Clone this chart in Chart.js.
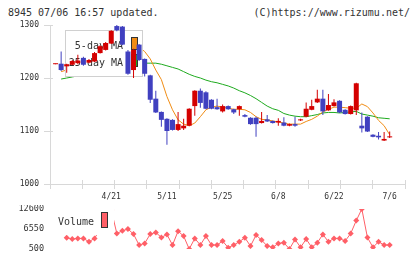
<!DOCTYPE html>
<html>
<head>
<meta charset="utf-8">
<script src="https://cdn.jsdelivr.net/npm/chart.js@4"></script>
<style>
  html, body { margin: 0; padding: 0; background: #fff; }
  #wrap { position: relative; width: 420px; height: 259px; overflow: hidden; }
  .txt { position: absolute; font: 10px 'DejaVu Sans Mono', monospace; color: #333; line-height: 12px; white-space: pre; }
  #main { position: absolute; left: 0; top: 0; }
  #vol { position: absolute; left: 0; top: 205px; }
</style>
</head>
<body>
<div id="wrap">
  <div class="txt" style="left:8px; top:7px">8945 07/06 16:57 updated.</div>
  <div class="txt" style="right:10px; top:7px">(C)https://www.rizumu.net/</div>
  <canvas id="main" width="420" height="205"></canvas>
  <canvas id="vol" width="420" height="54"></canvas>
</div>
<script>
// trading days, 2020
const dates = [
  '4/7','4/8','4/9','4/10','4/13','4/14','4/15','4/16','4/17','4/20',
  '4/21','4/22','4/23','4/24','4/27','4/28','4/30','5/1','5/7','5/8',
  '5/11','5/12','5/13','5/14','5/15','5/18','5/19','5/20','5/21','5/22',
  '5/25','5/26','5/27','5/28','5/29','6/1','6/2','6/3','6/4','6/5',
  '6/8','6/9','6/10','6/11','6/12','6/15','6/16','6/17','6/18','6/19',
  '6/22','6/23','6/24','6/25','6/26','6/29','6/30','7/1','7/2','7/3',
  '7/6'
]
const tickDays = [10, 20, 30, 40, 50, 60]

const open = [
  1226,1227,1222,1225,1228,1238,1229,1231,1247,1253,
  1265,1298,1297,1250,1215,1263,1236,1205,1161,1136,
  1123,1121,1102,1105,1110,1147,1176,1173,1159,1145,
  1137,1147,1141,1141,1130,1125,1125,1115,1122,1119,
  1116,1116,1110,1113,1120,1127,1140,1154,1161,1139,
  1147,1157,1140,1132,1139,1110,1127,1093,1091,1082,
  1088
]
const high = [
  1227,1250,1227,1234,1244,1240,1236,1249,1262,1268,
  1290,1301,1298,1253,1255,1264,1237,1206,1176,1137,
  1124,1122,1136,1123,1143,1177,1180,1175,1160,1161,
  1150,1148,1142,1148,1132,1126,1127,1136,1130,1120,
  1124,1126,1114,1127,1123,1154,1159,1178,1178,1170,
  1160,1158,1141,1148,1191,1135,1128,1094,1098,1098,
  1099
]
const low = [
  1226,1213,1210,1224,1226,1223,1228,1230,1246,1252,
  1264,1288,1262,1206,1200,1232,1203,1153,1134,1108,
  1074,1101,1100,1102,1109,1129,1144,1141,1141,1140,
  1135,1140,1132,1129,1126,1112,1089,1114,1117,1114,
  1110,1109,1109,1108,1119,1126,1139,1153,1130,1138,
  1146,1134,1131,1131,1130,1097,1098,1088,1084,1081,
  1087
]
const close = [
  1227,1215,1226,1232,1233,1225,1234,1247,1260,1266,
  1289,1290,1263,1208,1253,1234,1208,1159,1135,1121,
  1100,1102,1113,1110,1142,1176,1153,1142,1142,1141,
  1147,1141,1135,1147,1127,1113,1113,1119,1118,1115,
  1119,1110,1113,1110,1122,1142,1147,1161,1137,1149,
  1154,1135,1132,1147,1190,1105,1099,1089,1088,1085,
  1089
]
const ma5 = [
  null,1212,1215,1219,1224,1227,1230,1233,1240,1249,
  1260,1271,1275,1270,1265,1258,1250,1236,1215,1197,
  1165,1140,1121,1113,1110,1115,1127,1140,1145,1147,
  1145,1143,1141,1141,1140,1135,1127,1122,1121,1119,
  1117,1115,1113,1113,1113,1118,1122,1128,1136,1141,
  1145,1145,1144,1143,1143,1151,1146,1134,1120,1110,
  1093
]
const ma25 = [
  null,1198,1200,1202,1204,1206,1208,1210,1212,1214,
  1217,1220,1222,1224,1226,1227,1228,1228,1228,1226,
  1223,1220,1217,1212,1207,1203,1200,1196,1193,1191,
  1188,1185,1181,1176,1172,1167,1161,1154,1147,1142,
  1139,1133,1130,1128,1127,1127,1129,1131,1134,1135,
  1135,1134,1135,1136,1137,1132,1130,1128,1125,1124,
  1123
]
const volume = [
  null,null,3900,3500,3700,3700,2700,3700,6500,9000,
  12300,5200,6000,6550,5000,1700,2200,5000,5500,4000,
  4900,1700,5900,4400,500,3700,1700,4400,1700,1700,
  2900,900,1700,2700,3900,1400,4700,3200,1400,1000,
  2200,2400,500,3400,1000,3500,1000,2400,4900,2700,
  3700,3700,2900,5200,9100,12600,4000,1000,2700,1700,
  1700
]
const volTicks = [500, 6550, 12600]

const UP = '#d40000'
const DOWN = '#4040c0'
const MA5_COLOR = '#f08c14'
const MA25_COLOR = '#1eaa1e'
const VOL_COLOR = '#ff5f67'
const AXIS = '#d8d8d8'
const TEXT = '#333'
const FONT = "'DejaVu Sans Mono', monospace"
const X_MIN = -1
const X_MAX = 62.75

const idx = dates.map((d, i) => i)
const candleColor = idx.map(i => close[i] >= open[i] ? UP : DOWN)

// tick marks that cross the axis lines
const innerTicks = {
  id: 'innerTicks',
  beforeDatasetsDraw(chart) {
    const { ctx, chartArea: a } = chart
    const xs = chart.scales.x, ys = chart.scales.y
    ctx.save()
    ctx.strokeStyle = AXIS
    ctx.lineWidth = 1
    ctx.beginPath()
    xs.ticks.forEach(t => {
      const px = Math.round(xs.getPixelForValue(t.value) - 0.5) + 0.5
      ctx.moveTo(px, a.bottom)
      ctx.lineTo(px, a.bottom - 4)
    })
    ys.ticks.forEach(t => {
      const py = Math.round(ys.getPixelForValue(t.value) - 0.5) + 0.5
      ctx.moveTo(a.left, py)
      ctx.lineTo(a.left + 3, py)
    })
    ctx.stroke()
    ctx.restore()
  }
}

// MA legend box sits above the MA lines but under the candles
const maLegend = {
  id: 'maLegend',
  beforeDatasetDraw(chart, args) {
    if (args.index !== 2) return
    const ctx = chart.ctx
    ctx.save()
    ctx.fillStyle = '#fff'
    ctx.fillRect(66, 31, 76, 45)
    ctx.strokeStyle = '#d0d0d0'
    ctx.lineWidth = 1
    ctx.strokeRect(65.5, 30.5, 77, 46)
    ctx.font = '10px ' + FONT
    ctx.textAlign = 'right'
    ctx.textBaseline = 'middle'
    const rows = [0, 1].map(k => chart.data.datasets[k])
    rows.forEach((ds, k) => {
      const y = 46 + k * 17
      ctx.fillStyle = TEXT
      ctx.fillText(ds.label, 123, y)
      ctx.fillStyle = ds.borderColor
      ctx.fillRect(131, y - 9, 7, 13)
      ctx.strokeStyle = '#333'
      ctx.strokeRect(131.5, y - 8.5, 6, 12)
    })
    ctx.restore()
  }
}

const volLegend = {
  id: 'volLegend',
  afterDatasetsDraw(chart) {
    const ctx = chart.ctx
    ctx.save()
    ctx.fillStyle = '#fff'
    ctx.fillRect(54, 2, 60, 28)
    ctx.font = '10px ' + FONT
    ctx.textAlign = 'left'
    ctx.textBaseline = 'middle'
    ctx.fillStyle = TEXT
    ctx.fillText(chart.data.datasets[0].label, 58, 17)
    ctx.fillStyle = VOL_COLOR
    ctx.fillRect(101, 7, 7, 16)
    ctx.strokeStyle = '#333'
    ctx.strokeRect(101.5, 7.5, 6, 15)
    ctx.restore()
  }
}

const tickFont = { family: FONT, size: 8 }

new Chart(document.getElementById('main'), {
  type: 'bar',
  data: {
    datasets: [
      {
        type: 'line', label: '5-day MA', order: 3,
        data: idx.map(i => ({ x: i, y: ma5[i] })),
        borderColor: MA5_COLOR, borderWidth: 1, pointRadius: 0, tension: 0
      },
      {
        type: 'line', label: '25-day MA', order: 4,
        data: idx.map(i => ({ x: i, y: ma25[i] })),
        borderColor: MA25_COLOR, borderWidth: 1, pointRadius: 0, tension: 0
      },
      {
        label: 'wick', order: 2, grouped: false,
        data: idx.map(i => ({ x: i, y: [low[i], high[i]] })),
        backgroundColor: candleColor, barThickness: 1, inflateAmount: 0
      },
      {
        label: 'body', order: 1, grouped: false,
        data: idx.map(i => ({ x: i, y: [Math.min(open[i], close[i]), Math.max(open[i], close[i])] })),
        backgroundColor: candleColor, barThickness: 5, minBarLength: 1, inflateAmount: 0
      }
    ]
  },
  options: {
    responsive: false,
    animation: false,
    events: [],
    devicePixelRatio: 1,
    layout: { padding: { top: 25, right: 15, left: 0, bottom: 0 } },
    plugins: { legend: { display: false }, tooltip: { enabled: false } },
    scales: {
      x: {
        type: 'linear', position: 'bottom', weight: 0,
        min: X_MIN, max: X_MAX, offset: false,
        afterBuildTicks: s => {
          s.ticks = Array.from({ length: 12 }, (_, k) => ({ value: X_MIN + k * (X_MAX - X_MIN) / 11 }))
        },
        ticks: { display: false },
        grid: { drawOnChartArea: false, offset: false, color: AXIS, tickLength: 5 },
        border: { color: AXIS },
        afterFit: s => { s.height = 5 }
      },
      xl: {
        type: 'linear', position: 'bottom', weight: 1,
        min: X_MIN, max: X_MAX, offset: false,
        afterBuildTicks: s => { s.ticks = tickDays.map(v => ({ value: v })) },
        ticks: {
          callback: v => dates[v], font: tickFont, color: TEXT,
          padding: 3, maxRotation: 0, autoSkip: false
        },
        grid: { display: false, drawTicks: false, offset: false },
        border: { display: false },
        afterFit: s => { s.height = 16 }
      },
      y: {
        type: 'linear', min: 1000, max: 1300,
        ticks: { stepSize: 100, callback: v => String(v), font: tickFont, color: TEXT, padding: 5 },
        grid: { drawOnChartArea: false, color: AXIS, tickLength: 6 },
        border: { color: AXIS },
        afterFit: s => { s.width = 50 }
      }
    }
  },
  plugins: [innerTicks, maLegend]
})

new Chart(document.getElementById('vol'), {
  type: 'line',
  data: {
    datasets: [{
      label: 'Volume',
      data: idx.map(i => ({ x: i, y: volume[i] })),
      borderColor: VOL_COLOR, backgroundColor: VOL_COLOR, borderWidth: 1,
      pointStyle: 'rectRot', pointRadius: 3, pointBorderWidth: 0, tension: 0
    }]
  },
  options: {
    responsive: false,
    animation: false,
    events: [],
    devicePixelRatio: 1,
    layout: { padding: { top: 4, right: 15, left: 0, bottom: 10 } },
    plugins: { legend: { display: false }, tooltip: { enabled: false } },
    scales: {
      x: { type: 'linear', min: X_MIN, max: X_MAX, display: false },
      y: {
        min: 500, max: 12600,
        afterBuildTicks: s => { s.ticks = volTicks.map(v => ({ value: v })) },
        ticks: { callback: v => String(v), font: { family: FONT, size: 8.5 }, color: TEXT, padding: 6 },
        grid: { display: false, drawTicks: false },
        border: { display: false },
        afterFit: s => { s.width = 50; s.paddingTop = 0; s.paddingBottom = 0 }
      }
    }
  },
  plugins: [volLegend]
})
</script>
</body>
</html>
